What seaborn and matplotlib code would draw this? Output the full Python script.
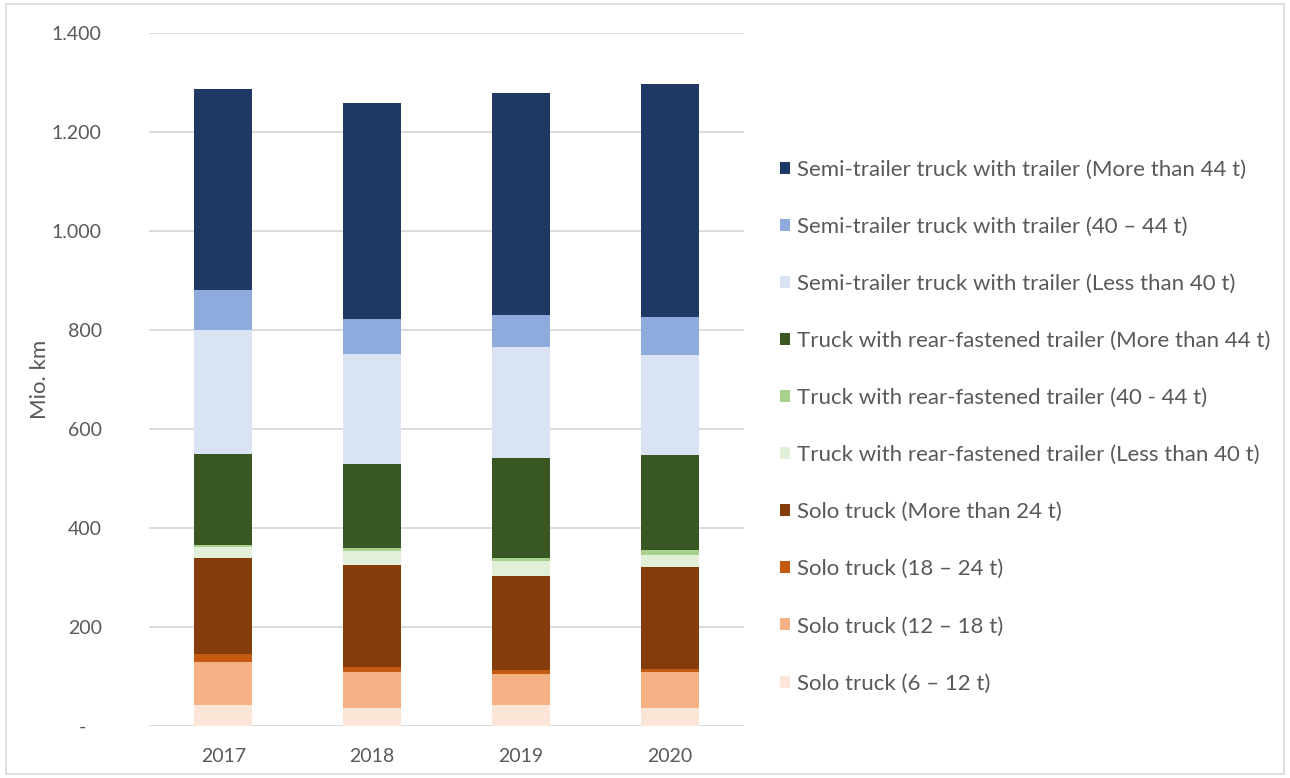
import matplotlib
matplotlib.use("Agg")
import matplotlib.pyplot as plt
from matplotlib.patches import Patch, Rectangle
from matplotlib.ticker import FuncFormatter
import numpy as np
import pandas as pd
import seaborn as sns

# Vehicle kilometres by vehicle type and weight class (million km)
years = [2017, 2018, 2019, 2020]

categories = [
    "Semi-trailer truck with trailer (More than 44 t)",
    "Semi-trailer truck with trailer (40 \u2013 44 t)",
    "Semi-trailer truck with trailer (Less than 40 t)",
    "Truck with rear-fastened trailer (More than 44 t)",
    "Truck with rear-fastened trailer (40 - 44 t)",
    "Truck with rear-fastened trailer (Less than 40 t)",
    "Solo truck (More than 24 t)",
    "Solo truck (18 \u2013 24 t)",
    "Solo truck (12 \u2013 18 t)",
    "Solo truck (6 \u2013 12 t)",
]

semi_gt44 = [405, 436, 448, 469]
semi_40_44 = [81, 70, 65, 78]
semi_lt40 = [251, 223, 224, 202]
rear_gt44 = [183, 170, 201, 191]
rear_40_44 = [4, 5, 7, 10]
rear_lt40 = [22, 29, 29, 24]
solo_gt24 = [194, 206, 191, 207]
solo_18_24 = [16, 9, 7, 5]
solo_12_18 = [87, 73, 63, 73]
solo_6_12 = [43, 37, 43, 37]

series = [semi_gt44, semi_40_44, semi_lt40, rear_gt44, rear_40_44,
          rear_lt40, solo_gt24, solo_18_24, solo_12_18, solo_6_12]

colors = ["#203864", "#8FAADC", "#DAE3F3", "#385723", "#A9D18E",
          "#E2F0D9", "#843C0C", "#C55A11", "#F4B183", "#FBE5D6"]

rows = []
for cat, vals in zip(categories, series):
    for yr, v in zip(years, vals):
        rows.append({"year": yr, "category": cat, "km": v})
df = pd.DataFrame(rows)

sns.set_theme(style="white")
plt.rcParams["font.family"] = ["Lato", "DejaVu Sans"]

text_color = "#595959"
grid_color = "#D9D9D9"

fig = plt.figure(figsize=(12.9, 7.78), dpi=100)
ax = fig.add_axes([149 / 1290, 1 - 726 / 778, (744 - 149) / 1290, (726 - 33) / 778])

palette = dict(zip(categories, colors))
sns.histplot(
    data=df, x="year", weights="km", hue="category",
    hue_order=categories, palette=palette, multiple="stack",
    discrete=True, shrink=0.39, alpha=1, linewidth=0,
    legend=False, ax=ax,
)

ax.set_xlim(2016.5, 2020.5)
ax.set_ylim(0, 1400)
ax.set_xticks(years)
ax.set_xticklabels([str(y) for y in years])
ax.set_yticks(np.arange(0, 1401, 200))


def fmt(v, _):
    if v == 0:
        return "-   "
    return f"{v:,.0f}".replace(",", ".")


ax.yaxis.set_major_formatter(FuncFormatter(fmt))
ax.grid(axis="y", color=grid_color, linewidth=1.3)
ax.grid(axis="x", visible=False)
ax.set_axisbelow(True)
for s in ax.spines.values():
    s.set_visible(False)
ax.tick_params(axis="both", length=0, labelsize=14, colors=text_color)
ax.tick_params(axis="y", pad=34)
ax.tick_params(axis="x", pad=16)
ax.set_xlabel("")
ax.set_ylabel("Mio. km", fontsize=16, color=text_color, labelpad=1)

handles = [Patch(facecolor=c, edgecolor="none") for c in colors]
fig.legend(
    handles, categories, loc="center left",
    bbox_to_anchor=(780 / 1290, 1 - 426.5 / 778),
    frameon=False, fontsize=16, labelcolor=text_color,
    handlelength=0.45, handleheight=0.45, handletextpad=0.32,
    labelspacing=1.67, borderaxespad=0, borderpad=0,
)

# Chart-area frame
fig.patches.append(Rectangle((6 / 1290, 4 / 778), 1 - 12 / 1290, 1 - 8 / 778,
                             transform=fig.transFigure, fill=False,
                             edgecolor=grid_color, linewidth=1.2))

fig.savefig("out.png", dpi=100)
